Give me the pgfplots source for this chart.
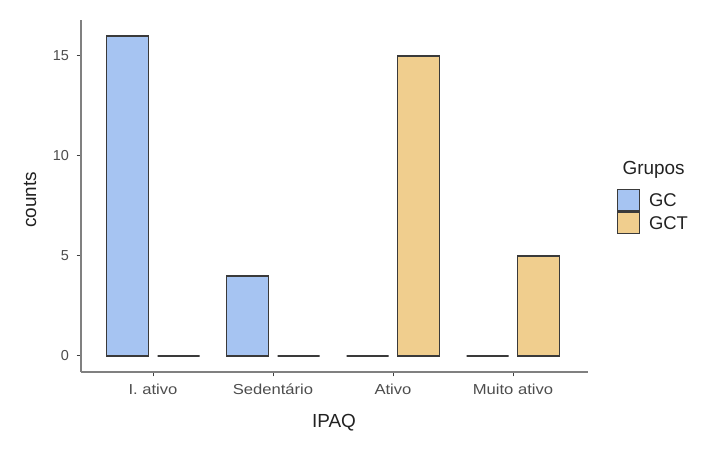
\documentclass[border=0pt]{standalone}
\usepackage{fontspec}
\setmainfont{Liberation Sans}
\newfontfamily\widefont{Liberation Sans}[FakeStretch=1.15]
\usepackage{pgfplots}
\pgfplotsset{compat=1.18}
\definecolor{gcblue}{HTML}{A6C4F2}
\definecolor{gctor}{HTML}{F0CE8E}
\definecolor{barline}{HTML}{3A3A3A}
\definecolor{axgray}{HTML}{808080}
\definecolor{ticktext}{HTML}{4D4D4D}
\definecolor{titletext}{HTML}{222222}
\begin{document}
\begin{tikzpicture}[x=1bp,y=1bp]
\useasboundingbox (0,0) rectangle (722,449);
\begin{axis}[
  at={(81bp,77bp)}, anchor=south west,
  width=507bp, height=352bp, scale only axis,
  xmin=0.4, xmax=4.625, ymin=-0.8, ymax=16.8,
  axis x line*=bottom, axis y line*=left,
  axis line style={axgray, line width=1.3bp},
  tick align=outside, major tick length=4.5bp,
  tick style={color=black!75, line width=1bp},
  xtick={1,2,3,4},
  xticklabels={I. ativo, Sedentário, Ativo, Muito ativo},
  ytick={0,5,10,15},
  /pgf/number format/assume math mode=true,
  tick label style={font=\fontsize{14.5}{17}\selectfont, text=ticktext},
  xticklabel style={font=\widefont\fontsize{14.5}{17}\selectfont, yshift=-3.5bp,
    text height=11bp, text depth=3bp},
  yticklabel style={xshift=-4bp},
  ybar, bar width=42bp,
  legend image code/.code={\draw[#1] (0bp,-10.75bp) rectangle (22bp,10.75bp); \path (31bp,0bp);},
  legend style={at={(axis description cs:1.057,0.52)}, anchor=north west,
    draw=none, fill=none, inner sep=0pt, outer sep=0pt, row sep=0pt,
    font=\fontsize{18.5}{22}\selectfont, text=titletext,
    nodes={inner sep=0pt, text height=13.5bp, text depth=0bp}},
  legend cell align=left,
  clip=false,
]
\addplot[fill=gcblue, draw=barline, line width=1.1bp, bar shift=-25.5bp]
  coordinates {(1,16) (2,4) (3,0) (4,0)};
\addplot[fill=gctor, draw=barline, line width=1.1bp, bar shift=25.5bp]
  coordinates {(1,0) (2,0) (3,15) (4,5)};
\legend{GC, GCT}
\end{axis}
\node[font=\fontsize{19}{22}\selectfont, text=titletext] at (334,26) {IPAQ};
\node[font=\fontsize{19}{22}\selectfont, text=titletext, rotate=90] at (30,249) {counts};
\node[font=\fontsize{19}{22}\selectfont, text=titletext, anchor=west] at (619,279) {Grupos};
\end{tikzpicture}
\end{document}
